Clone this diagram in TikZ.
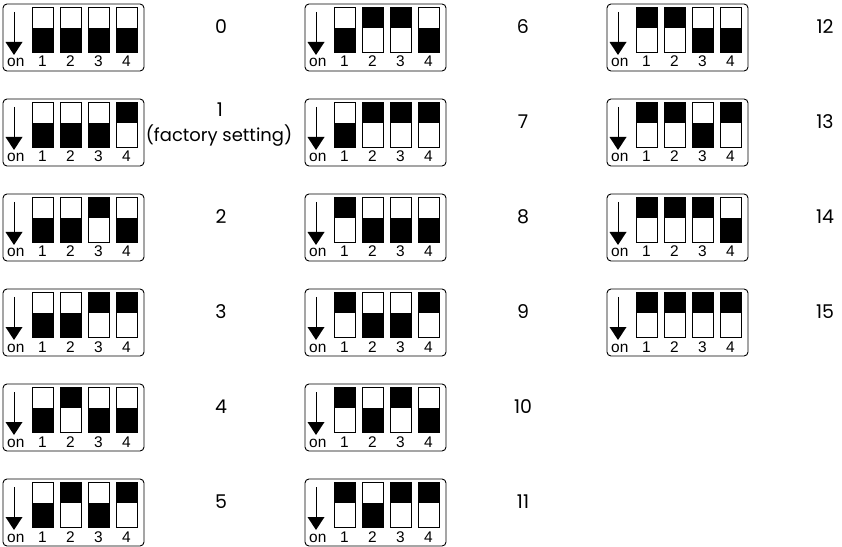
\documentclass[tikz,border=0pt]{standalone}
\usepackage{fontspec}
\setmainfont{Liberation Sans}
\newfontfamily\labfont{Poppins}
\begin{document}
\begin{tikzpicture}[x=1bp,y=-1bp,
  boxframe/.style={draw=black,line width=0.9bp,rounded corners=4bp},
  slideframe/.style={draw=black,line width=0.8bp},
  swtxt/.style={font=\fontsize{15.5}{15.5}\selectfont,inner sep=0pt},
  numlab/.style={font=\labfont\fontsize{19}{21}\selectfont,inner sep=0pt}]
\useasboundingbox (0,0) rectangle (842,547);
\foreach \n in {0,...,15}{
  \pgfmathtruncatemacro\c{floor(\n/6)}
  \pgfmathtruncatemacro\r{\n-6*\c}
  \pgfmathsetmacro\X{3+302*\c}
  \pgfmathsetmacro\Y{4+95*\r}
  \begin{scope}[shift={(\X,\Y)}]
    \draw[boxframe] (0,0) rectangle (141,67);
    \draw[line width=0.8bp] (11,8) -- (11,40);
    \fill (2.5,38) -- (19.5,38) -- (11,51) -- cycle;
    \node[swtxt,anchor=base west] (on\n) at (4,63) {on};
    \foreach \k in {1,...,4}{
      \pgfmathtruncatemacro\b{mod(floor(\n/2^(4-\k)),2)}
      \pgfmathsetmacro\sx{29+28*(\k-1)}
      \ifnum\b=1
        \fill (\sx,3) rectangle ({\sx+21},24);
      \else
        \fill (\sx,24) rectangle ({\sx+21},48);
      \fi
      \draw[slideframe] (\sx,3) rectangle ({\sx+21},48);
      \node[swtxt,anchor=base] (num\n-\k) at ({\sx+10.5},63) {\k};
    }
  \end{scope}
  \ifnum\n=1
    \node[numlab] (lab\n) at ({220+302*\c},{4+95*\r+11}) {1};
    \node[numlab,font=\labfont\fontsize{18}{20}\selectfont] (fact) at ({219+302*\c},{4+95*\r+37}) {(factory setting)};
  \else
    \node[numlab] (lab\n) at ({221+302*\c},{4+95*\r+23}) {\n};
  \fi
}
\end{tikzpicture}
\end{document}
